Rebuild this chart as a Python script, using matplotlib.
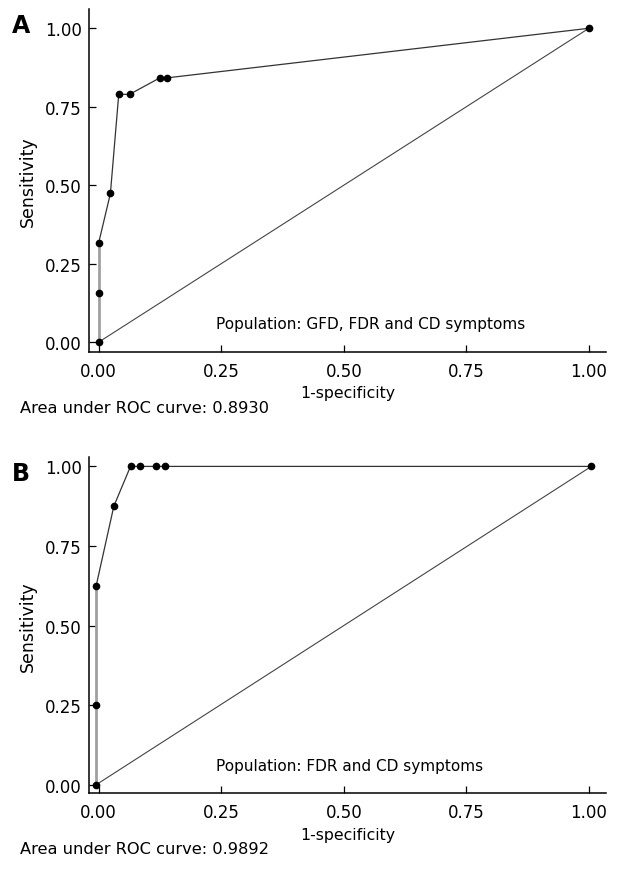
import matplotlib.pyplot as plt

# ROC points: panel A (n=19 positives), panel B (n=8 positives)
fpr_a = [0.0, 0.0, 0.0, 0.024, 0.041, 0.063, 0.125, 0.140, 1.0]
tpr_a = [0.0, 3/19, 6/19, 9/19, 15/19, 15/19, 16/19, 16/19, 1.0]

fpr_b = [-0.005, -0.005, -0.005, 0.031, 0.065, 0.084, 0.117, 0.135, 1.005]
tpr_b = [0.0, 2/8, 5/8, 7/8, 1.0, 1.0, 1.0, 1.0, 1.0]

ticks = [0.0, 0.25, 0.5, 0.75, 1.0]
tick_labels = ["0.00", "0.25", "0.50", "0.75", "1.00"]

panels = [
    ("A", fpr_a, tpr_a, "Population: GFD, FDR and CD symptoms", "0.8930"),
    ("B", fpr_b, tpr_b, "Population: FDR and CD symptoms", "0.9892"),
]

plt.rcParams['font.family'] = ['DejaVu Sans']
plt.rcParams['font.size'] = 10

fig = plt.figure(figsize=(6.3, 8.7), dpi=100)

# axes rectangles in figure fractions, and y limits
rects = [[0.141, 0.594, 0.821, 0.394], [0.141, 0.087, 0.821, 0.386]]
ylims = [(-0.032, 1.06), (-0.027, 1.028)]

for (letter, fpr, tpr, pop_text, auc), rect, ylim in zip(panels, rects, ylims):
    ax = fig.add_axes(rect)

    # diagonal reference line
    ax.plot([fpr[0], fpr[-1]], [tpr[0], tpr[-1]], color='#444444', lw=0.8, zorder=1)

    # vertical part at zero specificity in light gray
    n0 = sum(1 for x in fpr if x == fpr[0])
    ax.plot(fpr[:n0], tpr[:n0], color='#a0a0a0', lw=2.0, zorder=2)
    ax.plot(fpr[n0 - 1:], tpr[n0 - 1:], color='#333333', lw=0.9, zorder=3)
    ax.plot(fpr, tpr, 'o', color='black', ms=4.5, zorder=4)

    ax.set_xlim(-0.02, 1.035)
    ax.set_ylim(*ylim)
    ax.set_xticks(ticks)
    ax.set_xticklabels(tick_labels)
    ax.set_yticks(ticks)
    ax.set_yticklabels(tick_labels)
    ax.tick_params(direction='in', length=5, width=0.9, labelsize=12)
    ax.tick_params(axis='x', pad=7)
    ax.tick_params(axis='y', pad=5)
    for s in ['top', 'right']:
        ax.spines[s].set_visible(False)
    for s in ['left', 'bottom']:
        ax.spines[s].set_linewidth(1.1)

    ax.set_xlabel("1-specificity", fontsize=11.3, labelpad=4)
    ax.set_ylabel("Sensitivity", fontsize=12.5, labelpad=6)
    ax.text(0.239, 0.06, pop_text, fontsize=11, va='center', ha='left')

    # panel letter and AUC text below
    ax.text(-0.148, ylim[1] - 0.05, letter, transform=ax.get_yaxis_transform(),
            fontsize=17, fontweight='bold', ha='left', va='center')
    ax.annotate("Area under ROC curve: " + auc, xy=(-0.1335, 0), xycoords='axes fraction',
                xytext=(0, -40), textcoords='offset points',
                fontsize=11.7, ha='left', va='center')

fig.savefig("out.png", dpi=100)
